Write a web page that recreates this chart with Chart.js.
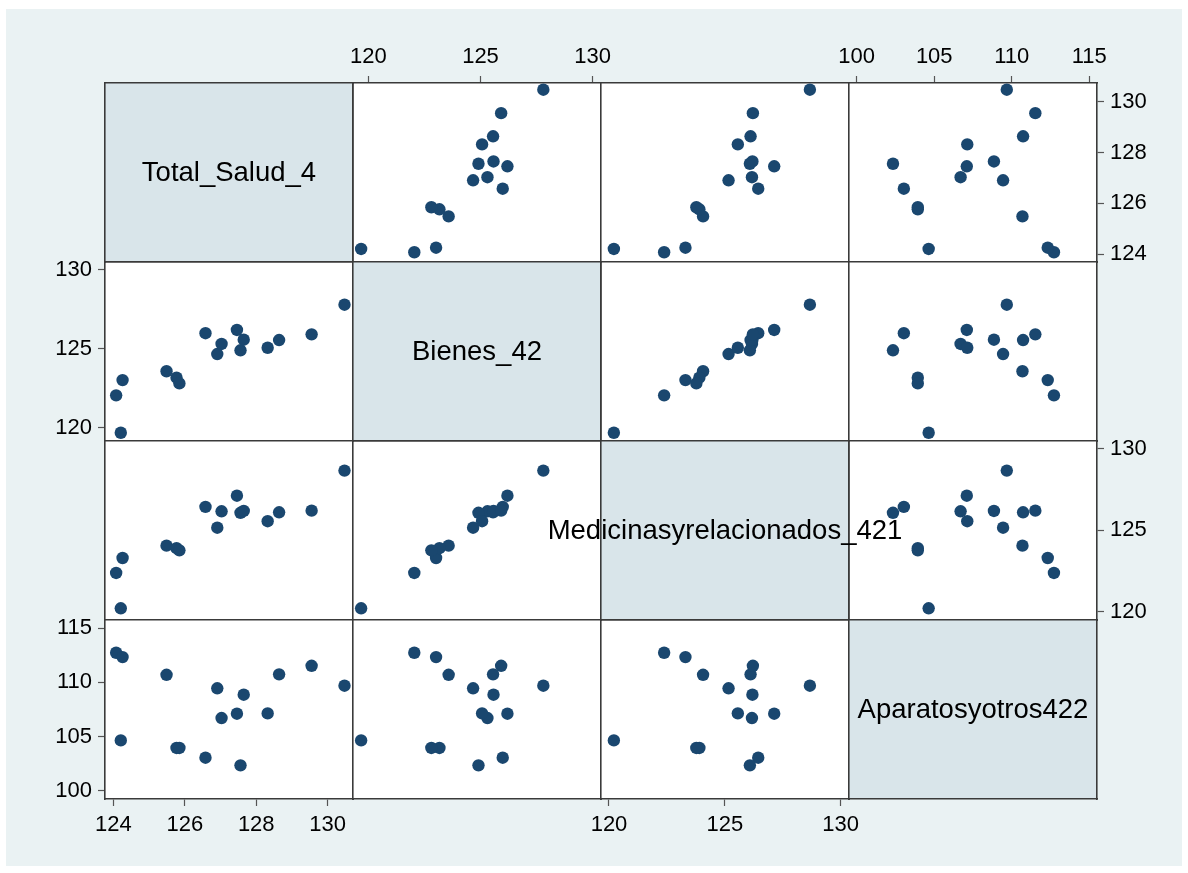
<!DOCTYPE html>
<html>
<head>
<meta charset="utf-8">
<script src="https://cdn.jsdelivr.net/npm/chart.js@4"></script>
<style>
    body { margin: 0; background: #ffffff; }
    #wrap { position: relative; width: 1188px; height: 873px; overflow: hidden; }
    #bg { position: absolute; left: 6px; top: 9px; width: 1176px; height: 857px; background: #eaf2f3; }
    canvas { position: absolute; }
</style>
</head>
<body>
<div id="wrap"><div id="bg"></div></div>
<script>
// Variable names (diagonal labels)
const varNames = ['Total_Salud_4', 'Bienes_42', 'Medicinasyrelacionados_421', 'Aparatosyotros422'];

const totalSalud = [124.08, 124.26, 124.21, 125.49, 125.77, 125.85, 126.58, 126.91, 127.03, 127.46, 127.56, 127.65, 128.32, 128.64, 129.55, 130.47];
const bienes     = [122.05, 123.02, 119.68, 123.58, 123.17, 122.81, 125.99, 124.67, 125.31, 126.20, 124.91, 125.58, 125.07, 125.56, 125.92, 127.80];
const medicinas  = [122.38, 123.30, 120.21, 124.06, 123.90, 123.77, 126.44, 125.16, 126.17, 127.13, 126.08, 126.19, 125.56, 126.11, 126.21, 128.67];
const aparatos   = [112.72, 112.32, 104.64, 110.69, 103.94, 103.94, 103.04, 109.44, 106.70, 107.10, 102.34, 108.85, 107.13, 110.73, 111.52, 109.68];

// Tick labels per variable
const ticksTotal = [124, 126, 128, 130];
const ticksBienes = [120, 125, 130];
const ticksMedicinas = [120, 125, 130];
const ticksAparatos = [100, 105, 110, 115];

const series = [totalSalud, bienes, medicinas, aparatos];
const tickSets = [ticksTotal, ticksBienes, ticksMedicinas, ticksAparatos];

// axis ranges as they appear in the panel grid
const colRange = [[123.768, 130.708], [119.318, 130.37], [119.655, 130.358], [99.503, 115.497]];
const rowRange = [[123.697, 130.735], [119.157, 130.507], [119.49, 130.49], [99.235, 115.74]];

// grid geometry
const LEFT = 105, TOP = 83, PW = 248, PH = 179, M = 70;
const FONT = "'Liberation Sans', Arial, Helvetica, sans-serif";

const panelBg = {
    id: 'panelBg',
    beforeDraw: function(chart, args, opts) {
        const a = chart.chartArea;
        const ctx = chart.ctx;
        ctx.save();
        ctx.fillStyle = opts.color;
        ctx.fillRect(a.left, a.top, a.right - a.left, a.bottom - a.top);
        ctx.restore();
    }
};

const diagLabel = {
    id: 'diagLabel',
    afterDraw: function(chart, args, opts) {
        if (!opts.text) return;
        const a = chart.chartArea;
        const ctx = chart.ctx;
        ctx.save();
        ctx.font = '27.5px ' + FONT;
        ctx.fillStyle = '#000';
        ctx.textAlign = 'center';
        ctx.textBaseline = 'middle';
        ctx.fillText(opts.text, (a.left + a.right) / 2, (a.top + a.bottom) / 2 + 1);
        ctx.restore();
    }
};

function makeScale(axis, position, range, tickArr, show) {
    return {
        type: 'linear',
        axis: axis,
        position: position,
        min: range[0],
        max: range[1],
        afterBuildTicks: function(s) { s.ticks = tickArr.map(v => ({ value: v })); },
        afterFit: function(s) { if (axis === 'x') s.height = M; else s.width = M; },
        grid: {
            display: true,
            drawOnChartArea: false,
            drawTicks: show,
            tickLength: 7,
            tickColor: '#555',
            tickWidth: 1.2
        },
        border: { display: true, color: '#3a3a3a', width: 1.6 },
        ticks: {
            display: show,
            color: '#000',
            padding: 6,
            autoSkip: false,
            maxRotation: 0,
            font: { family: FONT, size: 22 }
        }
    };
}

const wrap = document.getElementById('wrap');

for (let r = 0; r < 4; r++) {
    for (let c = 0; c < 4; c++) {
        const canvas = document.createElement('canvas');
        canvas.width = PW + 2 * M;
        canvas.height = PH + 2 * M;
        canvas.style.left = (LEFT + c * PW - M) + 'px';
        canvas.style.top = (TOP + r * PH - M) + 'px';
        canvas.style.zIndex = (r === c) ? 2 : 1;
        wrap.appendChild(canvas);

        const diag = r === c;
        const showBottom = !diag && r === 3 && c % 2 === 0;
        const showTop = !diag && r === 0 && c % 2 === 1;
        const showLeft = !diag && c === 0 && r % 2 === 1;
        const showRight = !diag && c === 3 && r % 2 === 0;

        const points = diag ? [] : series[c].map((v, i) => ({ x: v, y: series[r][i] }));

        new Chart(canvas, {
            type: 'scatter',
            data: {
                datasets: [{
                    data: points,
                    xAxisID: 'x',
                    yAxisID: 'y',
                    backgroundColor: '#1a476f',
                    borderWidth: 0,
                    pointRadius: 6.2,
                    clip: false
                }]
            },
            options: {
                responsive: false,
                animation: false,
                layout: { padding: 0 },
                plugins: {
                    legend: { display: false },
                    tooltip: { enabled: false },
                    panelBg: { color: diag ? '#d9e5ea' : '#ffffff' },
                    diagLabel: { text: diag ? varNames[r] : '' }
                },
                scales: {
                    x: makeScale('x', 'bottom', colRange[c], tickSets[c], showBottom),
                    x2: makeScale('x', 'top', colRange[c], tickSets[c], showTop),
                    y: makeScale('y', 'left', rowRange[r], tickSets[r], showLeft),
                    y2: makeScale('y', 'right', rowRange[r], tickSets[r], showRight)
                }
            },
            plugins: [panelBg, diagLabel]
        });
    }
}
</script>
</body>
</html>
